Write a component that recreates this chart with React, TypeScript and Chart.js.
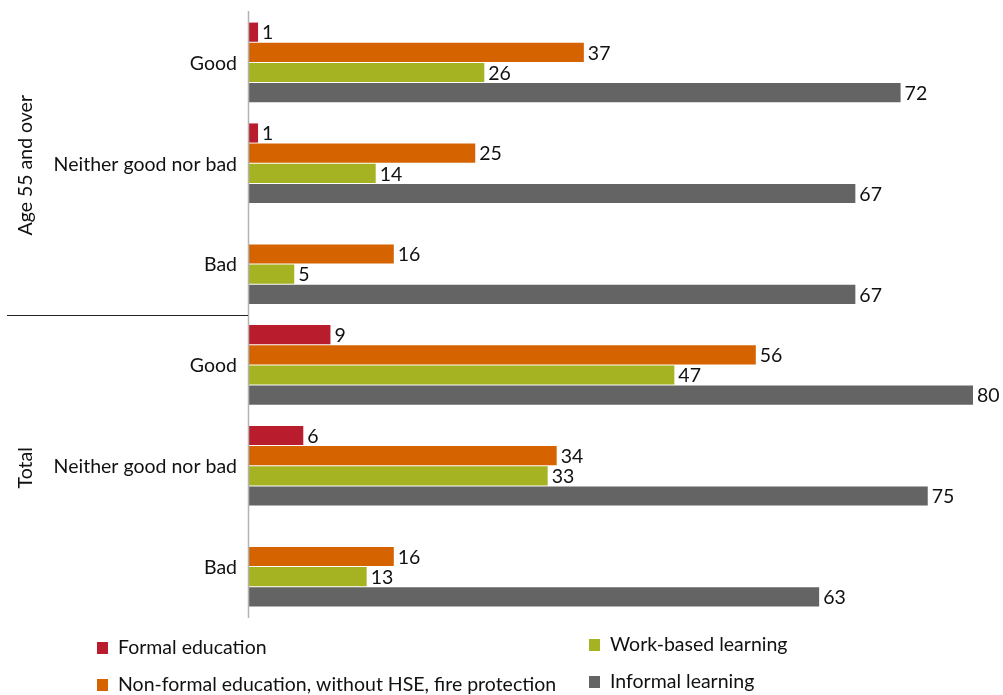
import React, { useEffect, useRef } from "react";
import { Chart, registerables } from "chart.js";

Chart.register(...registerables);

const categories = ["Good", "Neither good nor bad", "Bad", "Good", "Neither good nor bad", "Bad"];
const groups = ["Age 55 and over", "Total"];
const formalEducation = [1, 1, null, 9, 6, null];
const nonFormalEducation = [37, 25, 16, 56, 34, 16];
const workBasedLearning = [26, 14, 5, 47, 33, 13];
const informalLearning = [72, 67, 67, 80, 75, 63];
const seriesNames = [
  "Formal education",
  "Non-formal education, without HSE, fire protection",
  "Work-based learning",
  "Informal learning",
];
const seriesColors = ["#B81C2D", "#D56400", "#A5B221", "#646464"];

const FONT = "Lato, Carlito, Calibri, sans-serif";
const FS = 19.5;

export default function App() {
  const ref = useRef<HTMLCanvasElement | null>(null);

  useEffect(() => {
    if (!ref.current) return;
    const seriesData = [formalEducation, nonFormalEducation, workBasedLearning, informalLearning];

    const overlay = {
      id: "overlay",
      afterDatasetsDraw(chart: any) {
        const ctx = chart.ctx;
        const area = chart.chartArea;
        const y = chart.scales.y;
        ctx.save();
        // value labels
        ctx.font = `${FS}px ${FONT}`;
        ctx.fillStyle = "#111";
        ctx.textAlign = "left";
        ctx.textBaseline = "middle";
        chart.data.datasets.forEach((ds: any, i: number) => {
          const meta = chart.getDatasetMeta(i);
          meta.data.forEach((bar: any, j: number) => {
            const v = ds.data[j];
            if (v === null || v === undefined) return;
            ctx.fillText(String(v), bar.x + 4, bar.y + 1);
          });
        });
        // axis line
        ctx.strokeStyle = "#B3B3B3";
        ctx.lineWidth = 1.5;
        ctx.beginPath();
        ctx.moveTo(area.left - 0.5, area.top - 1);
        ctx.lineTo(area.left - 0.5, area.bottom + 1);
        ctx.stroke();
        // category labels
        ctx.fillStyle = "#111";
        ctx.textAlign = "right";
        categories.forEach((c, i) => {
          ctx.fillText(c, area.left - 12, y.getPixelForValue(i) + 1);
        });
        // group separator
        const sepY = (y.getPixelForValue(2) + y.getPixelForValue(3)) / 2;
        ctx.strokeStyle = "#222";
        ctx.lineWidth = 1.2;
        ctx.beginPath();
        ctx.moveTo(7, Math.round(sepY) + 0.5);
        ctx.lineTo(area.left - 1, Math.round(sepY) + 0.5);
        ctx.stroke();
        // group labels
        groups.forEach((g, gi) => {
          const cy = (y.getPixelForValue(gi * 3) + y.getPixelForValue(gi * 3 + 2)) / 2;
          ctx.save();
          ctx.translate(26, cy + 2);
          ctx.rotate(-Math.PI / 2);
          ctx.textAlign = "center";
          ctx.textBaseline = "middle";
          ctx.fillText(g, 0, 0);
          ctx.restore();
        });
        // legend
        const legendPos = [
          { x: 97, y: 648 },
          { x: 97, y: 685 },
          { x: 589, y: 645 },
          { x: 589, y: 682 },
        ];
        ctx.textAlign = "left";
        seriesNames.forEach((n, i) => {
          const p = legendPos[i];
          ctx.fillStyle = seriesColors[i];
          ctx.fillRect(p.x, p.y - 6, 11, 12);
          ctx.fillStyle = "#111";
          ctx.fillText(n, p.x + 21, p.y);
        });
        ctx.restore();
      },
    };

    const chart = new Chart(ref.current, {
      type: "bar",
      data: {
        labels: categories.map((c, i) => `${groups[Math.floor(i / 3)]} - ${c}`),
        datasets: seriesNames.map((n, i) => ({
          label: n,
          data: seriesData[i] as any,
          backgroundColor: seriesColors[i],
          borderWidth: 0,
          barPercentage: 0.95,
          categoryPercentage: 0.8,
        })),
      },
      options: {
        indexAxis: "y",
        responsive: false,
        animation: false,
        layout: { padding: { left: 249, right: 30, top: 12, bottom: 78 } },
        plugins: { legend: { display: false }, tooltip: { enabled: false } },
        scales: {
          x: { display: false, min: 0, max: 80 },
          y: { display: false },
        },
      },
      plugins: [overlay],
    });
    return () => chart.destroy();
  }, []);

  return (
    <div style={{ position: "absolute", left: 0, top: 0, width: 1003, height: 695, background: "#fff" }}>
      <canvas ref={ref} width={1003} height={695} style={{ width: 1003, height: 695 }} />
    </div>
  );
}
